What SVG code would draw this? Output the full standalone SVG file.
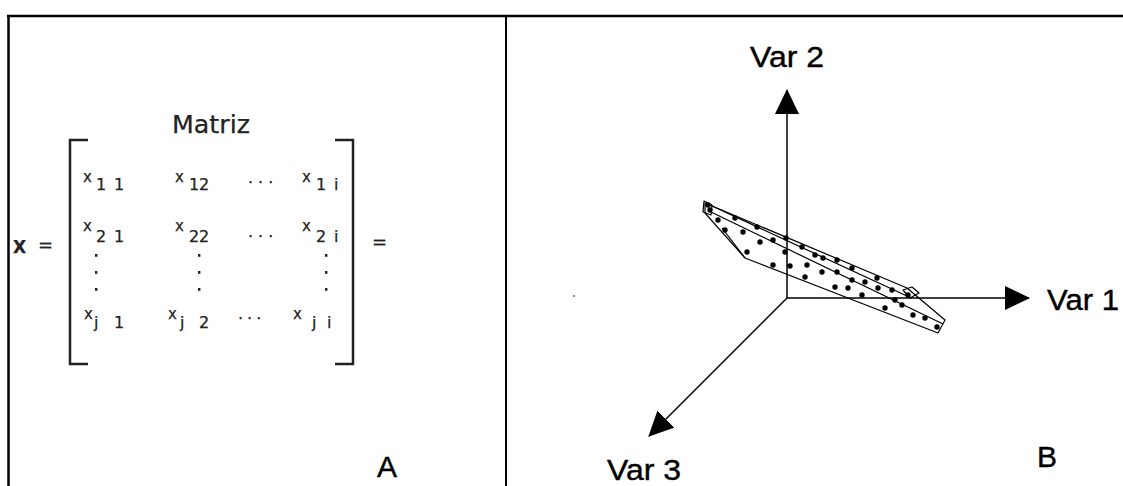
<svg xmlns="http://www.w3.org/2000/svg" width="1123" height="486" viewBox="0 0 1123 486">
  <style>
    .frame { stroke: #000; fill: none; }
    .bracket { stroke: #222; stroke-width: 2.5; fill: none; }
    .m { font-family: "DejaVu Sans", Verdana, sans-serif; fill: #222; stroke: #222; stroke-width: 0.25; }
    .xg { font-size: 15px; }
    .ix { font-size: 16px; }
    .dot { fill: #222; }
    .lbl { font-family: "Liberation Sans", Arial, sans-serif; font-size: 30px; fill: #000; stroke: #000; stroke-width: 0.4; }
    .axis { stroke: #000; stroke-width: 1.5; fill: none; }
    .slab { stroke: #000; stroke-width: 1.2; fill: none; stroke-linejoin: round; }
    .pt { fill: #000; }
  </style>
  <defs>
    <marker id="arrow" viewBox="0 0 25 24" refX="24" refY="12" markerWidth="25" markerHeight="24" markerUnits="userSpaceOnUse" orient="auto">
      <path d="M0,0 L25,12 L0,24 Z" fill="#000"/>
    </marker>
  </defs>

  <rect width="1123" height="486" fill="#fff"/>

  <!-- outer frame and panel divider -->
  <g id="frame" class="frame">
    <line x1="7" y1="16" x2="1123" y2="16" stroke-width="2.5"/>
    <line x1="8.5" y1="15" x2="8.5" y2="486" stroke-width="2.5"/>
    <line x1="506" y1="17" x2="506" y2="486" stroke-width="2"/>
  </g>

  <!-- panel A: data matrix -->
  <g id="matrix">
    <text class="m" x="172" y="133" font-size="24" textLength="78" lengthAdjust="spacingAndGlyphs">Matriz</text>

    <text class="m" x="13" y="253" font-size="17" font-weight="bold">X</text>
    <text class="m" x="38" y="251" font-size="18">=</text>
    <text class="m" x="372" y="248" font-size="18">=</text>

    <path class="bracket" d="M88,140 H70 V364 H88"/>
    <path class="bracket" d="M335,140 H353 V364 H335"/>

    <!-- row 1 -->
    <text class="m xg" x="83" y="182">x</text>
    <text class="m ix" x="96" y="190">1</text>
    <text class="m ix" x="114" y="190">1</text>
    <text class="m xg" x="175" y="182">x</text>
    <text class="m ix" x="189" y="190">1</text>
    <text class="m ix" x="199" y="190">2</text>
    <text class="m ix" x="248" y="183" letter-spacing="5">...</text>
    <text class="m xg" x="302" y="182">x</text>
    <text class="m ix" x="316" y="190">1</text>
    <text class="m ix" x="334" y="190">i</text>

    <!-- row 2 -->
    <text class="m xg" x="83" y="231">x</text>
    <text class="m ix" x="96" y="242">2</text>
    <text class="m ix" x="114" y="242">1</text>
    <text class="m xg" x="175" y="231">x</text>
    <text class="m ix" x="189" y="242">2</text>
    <text class="m ix" x="199" y="242">2</text>
    <text class="m ix" x="248" y="237" letter-spacing="5">...</text>
    <text class="m xg" x="302" y="231">x</text>
    <text class="m ix" x="316" y="242">2</text>
    <text class="m ix" x="334" y="242">i</text>

    <!-- vertical ellipses -->
    <rect class="dot" x="95" y="254" width="2.4" height="2.8"/>
    <rect class="dot" x="95" y="271" width="2.4" height="2.8"/>
    <rect class="dot" x="95" y="288" width="2.4" height="2.8"/>
    <rect class="dot" x="198" y="254" width="2.4" height="2.8"/>
    <rect class="dot" x="198" y="271" width="2.4" height="2.8"/>
    <rect class="dot" x="198" y="288" width="2.4" height="2.8"/>
    <rect class="dot" x="325" y="254" width="2.4" height="2.8"/>
    <rect class="dot" x="325" y="271" width="2.4" height="2.8"/>
    <rect class="dot" x="325" y="288" width="2.4" height="2.8"/>

    <!-- row j -->
    <text class="m xg" x="84" y="319">x</text>
    <text class="m ix" x="94" y="328">j</text>
    <text class="m ix" x="114" y="328">1</text>
    <text class="m xg" x="168" y="319">x</text>
    <text class="m ix" x="180" y="328">j</text>
    <text class="m ix" x="199" y="328">2</text>
    <text class="m ix" x="238" y="319" letter-spacing="4">...</text>
    <text class="m xg" x="293" y="319">x</text>
    <text class="m ix" x="312" y="328">j</text>
    <text class="m ix" x="327" y="328">i</text>
  </g>

  <g id="label-a">
    <text class="lbl" x="377" y="477">A</text>
  </g>

  <!-- panel B: three axes with the point cloud -->
  <g id="axes">
    <line class="axis" x1="787" y1="298" x2="787" y2="90" marker-end="url(#arrow)"/>
    <line class="axis" x1="787" y1="298" x2="1029" y2="298" marker-end="url(#arrow)"/>
    <line class="axis" x1="787" y1="298" x2="649" y2="436" marker-end="url(#arrow)"/>
  </g>

  <g id="var2"><text class="lbl" x="750" y="67" textLength="74" lengthAdjust="spacingAndGlyphs">Var 2</text></g>
  <g id="var1"><text class="lbl" x="1047" y="310" textLength="72" lengthAdjust="spacingAndGlyphs">Var 1</text></g>
  <g id="var3"><text class="lbl" x="607" y="480" textLength="74" lengthAdjust="spacingAndGlyphs">Var 3</text></g>
  <g id="label-b"><text class="lbl" x="1037" y="467">B</text></g>

  <g id="cloud">
    <path class="slab" d="M705,203 L907,288 L945,320 L938,333 L745,258 L705,213 Z"/>
    <path class="slab" d="M704,201 L712,205 L711,215 L703,212 Z"/>
    <path class="slab" d="M711,212 L943,324"/>
    <path class="slab" d="M722,228 L745,258"/>
    <path class="slab" d="M712,206 L907,296"/>
    <path class="slab" d="M903,290 L912,287 L919,293 L910,298 Z"/>
    <g class="pt">
      <circle cx="710" cy="210" r="2.7"/>
      <circle cx="708" cy="205" r="2.7"/>
      <circle cx="735" cy="218" r="2.7"/>
      <circle cx="725" cy="230" r="2.7"/>
      <circle cx="743" cy="232" r="2.7"/>
      <circle cx="757" cy="227" r="2.7"/>
      <circle cx="760" cy="242" r="2.7"/>
      <circle cx="773" cy="240" r="2.7"/>
      <circle cx="747" cy="252" r="2.7"/>
      <circle cx="785" cy="252" r="2.7"/>
      <circle cx="802" cy="247" r="2.7"/>
      <circle cx="773" cy="265" r="2.7"/>
      <circle cx="790" cy="266" r="2.7"/>
      <circle cx="807" cy="265" r="2.7"/>
      <circle cx="805" cy="277" r="2.7"/>
      <circle cx="822" cy="272" r="2.7"/>
      <circle cx="823" cy="258" r="2.7"/>
      <circle cx="837" cy="260" r="2.7"/>
      <circle cx="837" cy="272" r="2.7"/>
      <circle cx="852" cy="268" r="2.7"/>
      <circle cx="852" cy="280" r="2.7"/>
      <circle cx="865" cy="282" r="2.7"/>
      <circle cx="877" cy="278" r="2.7"/>
      <circle cx="878" cy="288" r="2.7"/>
      <circle cx="892" cy="290" r="2.7"/>
      <circle cx="835" cy="287" r="2.7"/>
      <circle cx="862" cy="295" r="2.7"/>
      <circle cx="902" cy="305" r="2.7"/>
      <circle cx="908" cy="295" r="2.7"/>
      <circle cx="885" cy="308" r="2.7"/>
      <circle cx="913" cy="315" r="2.7"/>
      <circle cx="937" cy="327" r="2.7"/>
      <circle cx="718" cy="220" r="2.7"/>
      <circle cx="786" cy="238" r="2.7"/>
      <circle cx="815" cy="255" r="2.7"/>
      <circle cx="848" cy="288" r="2.7"/>
      <circle cx="895" cy="300" r="2.7"/>
      <circle cx="925" cy="318" r="2.7"/>
    </g>
    <circle cx="574" cy="296" r="0.8" fill="#000"/>
  </g>
</svg>
